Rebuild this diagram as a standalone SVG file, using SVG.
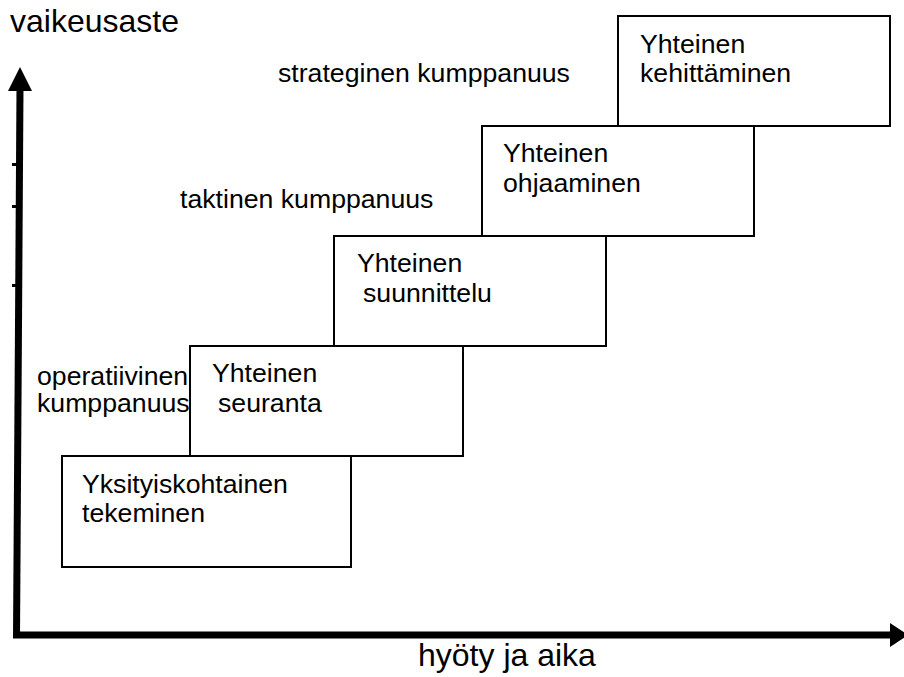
<svg xmlns="http://www.w3.org/2000/svg" width="904" height="677" viewBox="0 0 904 677">
  <style>
    text { font-family: "Liberation Sans", Arial, sans-serif; fill: #000; }
    .lbl { font-size: 26.67px; }
    .axis-title { font-size: 32px; }
    .step rect { fill: #fff; stroke: #000; stroke-width: 2; }
    .axis { stroke: #000; stroke-width: 7; fill: none; }
  </style>
  <rect width="904" height="677" fill="#fff"/>

  <!-- axes -->
  <g id="connectors">
    <line class="axis" x1="16.5" y1="638" x2="20" y2="88"/>
    <polygon points="20,67 32,91 8,91" fill="#000"/>
    <line class="axis" x1="13" y1="635" x2="892" y2="635"/>
    <polygon points="890,623 908,635 890,647" fill="#000"/>
    <!-- small tick marks on the vertical axis -->
    <rect x="12" y="163" width="4" height="3" fill="#000"/>
    <rect x="12" y="205" width="4" height="3" fill="#000"/>
    <rect x="12" y="284" width="4" height="3" fill="#000"/>
  </g>

  <text id="y-title" class="axis-title" x="10" y="32">vaikeusaste</text>
  <text id="x-title" class="axis-title" x="418" y="666">hyöty ja aika</text>

  <!-- partnership levels -->
  <text id="lvl-strategic" class="lbl" x="278" y="82">strateginen kumppanuus</text>
  <text id="lvl-tactical" class="lbl" x="180" y="208">taktinen kumppanuus</text>
  <text id="lvl-operative" class="lbl"><tspan x="37" y="385">operatiivinen</tspan><tspan x="37" y="412">kumppanuus</tspan></text>

  <!-- steps -->
  <g id="step1" class="step">
    <rect x="62" y="456" width="289" height="111"/>
    <text class="lbl"><tspan x="82" y="493">Yksityiskohtainen</tspan><tspan x="82" y="522">tekeminen</tspan></text>
  </g>
  <g id="step2" class="step">
    <rect x="190" y="346" width="273" height="110"/>
    <text class="lbl"><tspan x="212" y="382">Yhteinen</tspan><tspan x="218" y="412">seuranta</tspan></text>
  </g>
  <g id="step3" class="step">
    <rect x="334" y="236" width="272" height="110"/>
    <text class="lbl"><tspan x="357" y="272">Yhteinen</tspan><tspan x="363" y="302">suunnittelu</tspan></text>
  </g>
  <g id="step4" class="step">
    <rect x="482" y="126" width="272" height="110"/>
    <text class="lbl"><tspan x="503" y="162">Yhteinen</tspan><tspan x="503" y="192">ohjaaminen</tspan></text>
  </g>
  <g id="step5" class="step">
    <rect x="618" y="16" width="272" height="110"/>
    <text class="lbl"><tspan x="640" y="53">Yhteinen</tspan><tspan x="640" y="82">kehittäminen</tspan></text>
  </g>
</svg>
